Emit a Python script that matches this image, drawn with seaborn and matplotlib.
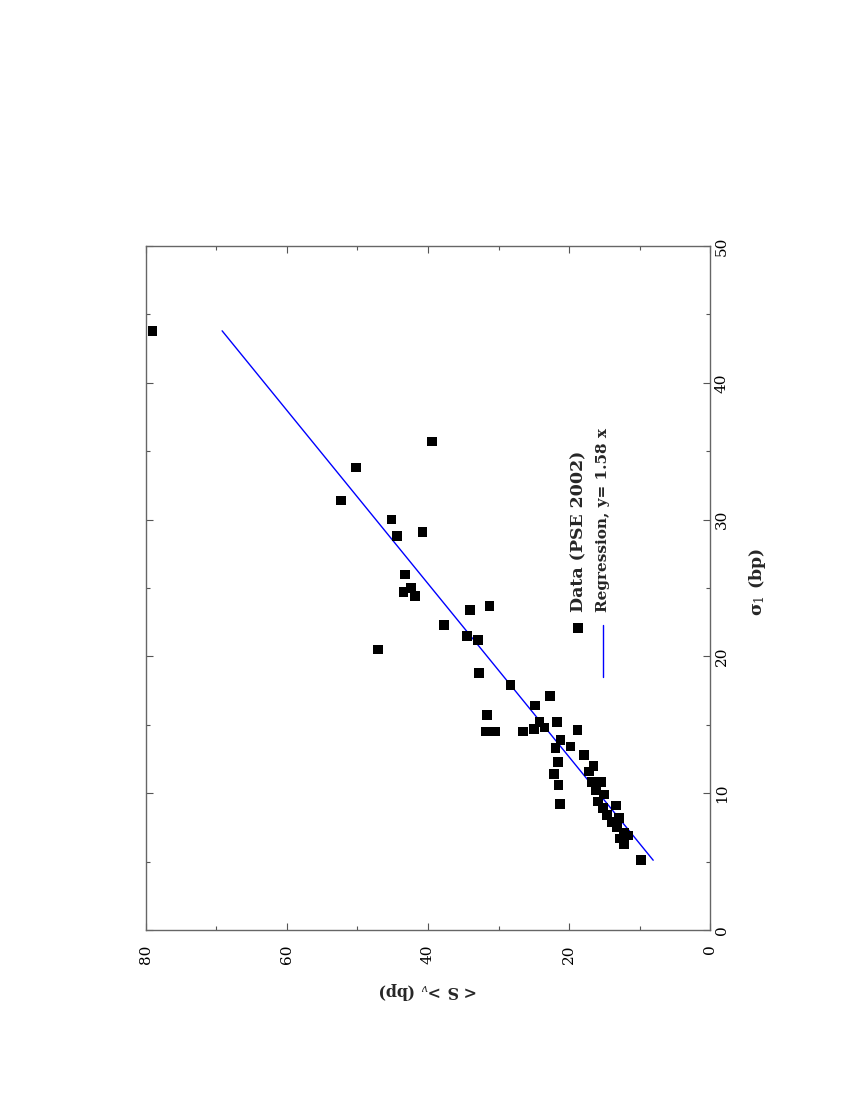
import matplotlib
matplotlib.use("Agg")
import matplotlib.pyplot as plt
import seaborn as sns
import pandas as pd

# ---- data (sigma_1 in bp, <S>_v in bp) ----
sigma1 = [43.8, 35.7, 33.8, 31.4, 30.0, 28.8, 29.1, 26.0, 25.0, 24.7, 24.4,
          23.4, 23.7, 22.3, 21.5, 21.2, 20.5, 18.8, 17.9, 17.1, 16.4, 15.7,
          14.5, 14.5, 14.5, 15.2, 14.7, 14.8, 15.2, 14.6, 13.9, 13.4, 13.3,
          12.8, 12.3, 12.0, 11.6, 11.4, 10.6, 9.2, 5.1,
          10.8, 10.8, 10.2, 9.9, 9.4, 8.9, 9.1, 8.4, 8.2, 7.9, 7.5, 7.1,
          6.7, 6.3, 6.9]
s_v = [79.1, 39.4, 50.2, 52.3, 45.2, 44.4, 40.8, 43.3, 42.4, 43.5, 41.8,
       34.0, 31.3, 37.7, 34.5, 32.9, 47.1, 32.8, 28.3, 22.7, 24.8, 31.6,
       31.8, 30.4, 26.5, 24.2, 25.0, 23.5, 21.7, 18.8, 21.2, 19.8, 21.9,
       17.9, 21.6, 16.5, 17.2, 22.1, 21.5, 21.3, 9.8,
       16.7, 15.5, 16.2, 15.0, 15.9, 15.2, 13.3, 14.6, 12.9, 13.9, 13.2, 12.2,
       12.8, 12.2, 11.6]
slope = 1.58
sigma_ticks = [0, 10, 20, 30, 40, 50]
s_ticks = [0, 20, 40, 60, 80]
legend_data = "Data (PSE 2002)"
legend_reg = "Regression, y= 1.58 x"

df = pd.DataFrame({"sigma1": sigma1, "S": s_v})
reg_sigma = [min(sigma1), max(sigma1)]
reg = pd.DataFrame({"sigma1": reg_sigma, "S": [slope * v for v in reg_sigma]})

sns.set_theme(style="ticks")
plt.rcParams["font.family"] = ["DejaVu Serif"]
plt.rcParams["mathtext.fontset"] = "dejavuserif"

fig = plt.figure(figsize=(8.5, 11), dpi=100)
ax = fig.add_axes([146 / 850, 1 - 930 / 1100, 564 / 850, 684 / 1100])

# page is rotated 90 deg CCW: <S>_v runs right-to-left along bottom, sigma_1 upward on the right
sns.lineplot(data=reg, x="S", y="sigma1", ax=ax, color="#0000ff", lw=1.0,
             sort=False, estimator=None, legend=False)
sns.scatterplot(data=df, x="S", y="sigma1", ax=ax, marker="s", s=48,
                color="black", edgecolor="none", legend=False, zorder=3)

ax.set_xlim(80, 0)
ax.set_ylim(0, 50)

ax.set_xticks(s_ticks, [str(t) for t in s_ticks], rotation=90, fontsize=11)
ax.set_xticks([10, 30, 50, 70], minor=True)
ax.set_yticks(sigma_ticks, [str(t) for t in sigma_ticks], rotation=90,
              va="center", fontsize=11)
ax.set_yticks([5, 15, 25, 35, 45], minor=True)

ax.tick_params(axis="x", which="both", direction="in", top=True, bottom=True,
               labelbottom=True, labeltop=False, pad=10.5, colors="#555555",
               labelcolor="black")
ax.tick_params(axis="y", which="both", direction="in", left=True, right=True,
               labelleft=False, labelright=True, pad=3.5, colors="#555555",
               labelcolor="black")
ax.tick_params(which="major", length=5, width=0.8)
ax.tick_params(which="minor", length=3, width=0.8)
for sp in ax.spines.values():
    sp.set_visible(True)
    sp.set_color("#666666")
    sp.set_linewidth(1.0)

ax.set_xlabel("< S >$_v$ (bp)", fontsize=11.5, fontweight="bold",
              rotation=180, va="center", ha="center")
ax.xaxis.set_label_coords(0.5, (930 - 990) / 684)
ax.yaxis.set_label_position("right")
ax.set_ylabel("σ$_1$ (bp)", fontsize=12.5, fontweight="bold",
              rotation=90, va="center", ha="center")
ax.yaxis.set_label_coords((758 - 146) / 564, (930 - 582) / 684)

# hand-drawn, rotated legend
ax.scatter([0.766], [0.4415], transform=ax.transAxes, marker="s", s=48,
           color="black", edgecolor="none", zorder=4)
ax.plot([0.810, 0.810], [0.446, 0.370], transform=ax.transAxes,
        color="#0000ff", lw=1.0)
ax.text(0.768, 0.465, legend_data, transform=ax.transAxes, rotation=90,
        ha="center", va="bottom", fontsize=12.5, fontweight="bold")
ax.text(0.810, 0.465, legend_reg, transform=ax.transAxes, rotation=90,
        ha="center", va="bottom", fontsize=11, fontweight="bold")

fig.savefig("out.png", dpi=100)
